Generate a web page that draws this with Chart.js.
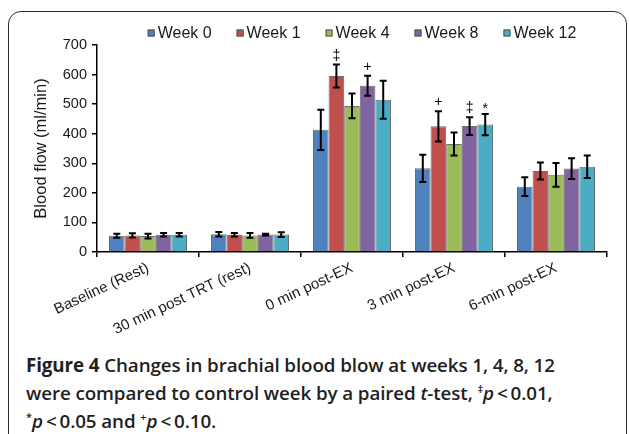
<!DOCTYPE html>
<html>
<head>
<meta charset="utf-8">
<script src="https://cdn.jsdelivr.net/npm/chart.js@4.4.1/dist/chart.umd.min.js"></script>
<style>
  html, body { margin: 0; padding: 0; background: #fff; }
  body { width: 629px; height: 434px; position: relative; overflow: hidden; }
  #frame {
    position: absolute; left: 8px; top: 11px; width: 617px; height: 480px;
    border: 1.5px solid #2b2b2b; border-radius: 13px;
  }
  #chartBox { position: absolute; left: 0; top: 0; width: 629px; height: 345px; }
  #caption {
    position: absolute; left: 26px; top: 351px; width: 600px;
    font-family: "Open Sans", sans-serif; font-size: 18.8px; line-height: 28px;
    font-weight: 600; color: #231f20; white-space: nowrap; letter-spacing: -0.1px;
  }
  #caption b { font-weight: 700; }
  #caption sup { font-size: 11px; line-height: 0; vertical-align: 7px; }
</style>
</head>
<body>
<div id="frame"></div>
<div id="chartBox"><canvas id="flowChart"></canvas></div>
<div id="caption">
  <b>Figure 4</b> Changes in brachial blood blow at weeks 1, 4, 8, 12<br>
  were compared to control week by a paired <i>t</i>-test, <sup>‡</sup><i>p</i>&thinsp;&lt;&thinsp;0.01,<br>
  <sup>*</sup><i>p</i>&thinsp;&lt;&thinsp;0.05 and <sup>+</sup><i>p</i>&thinsp;&lt;&thinsp;0.10.
</div>
<script>
const categories = ["Baseline (Rest)", "30 min post TRT (rest)", "0 min post-EX", "3 min post-EX", "6-min post-EX"];
const weekLabels = ["Week 0", "Week 1", "Week 4", "Week 8", "Week 12"];
const weekColors = ["#4f81bd", "#c0504d", "#9bbb59", "#8064a2", "#4bacc6"];

// mean blood flow (ml/min)
const week0 = [55, 60, 413, 283, 221];
const week1 = [56, 58, 595, 425, 274];
const week4 = [54, 56, 494, 365, 261];
const week8 = [58, 59, 562, 426, 282];
const week12 = [58, 59, 515, 431, 288];

// error bar half-widths
const err0 = [7, 8, 68, 46, 32];
const err1 = [7, 6, 39, 51, 29];
const err4 = [8, 8, 42, 39, 40];
const err8 = [6, 3, 34, 30, 35];
const err12 = [6, 8, 64, 36, 38];

// significance markers vs week 0
const sig0 = ["", "", "", "", ""];
const sig1 = ["", "", "\u2021", "+", ""];
const sig4 = ["", "", "", "", ""];
const sig8 = ["", "", "+", "\u2021", ""];
const sig12 = ["", "", "", "*", ""];

const yTicks = [0, 100, 200, 300, 400, 500, 600, 700];

const values = [week0, week1, week4, week8, week12];
const errors = [err0, err1, err4, err8, err12];
const marks = [sig0, sig1, sig4, sig8, sig12];

const chartFont = '"Liberation Sans", Arial, sans-serif';
const textColor = "#1a1a1a";

// error bars + significance symbols
const errorBarPlugin = {
  id: "errorBars",
  afterDatasetsDraw(chart) {
    const ctx = chart.ctx;
    const y = chart.scales.y;
    ctx.save();
    ctx.strokeStyle = "#000";
    ctx.lineWidth = 2;
    chart.data.datasets.forEach((ds, i) => {
      const meta = chart.getDatasetMeta(i);
      meta.data.forEach((bar, j) => {
        const v = ds.data[j], e = ds.errors[j];
        const top = y.getPixelForValue(v + e);
        const bot = y.getPixelForValue(v - e);
        const x = bar.x;
        ctx.beginPath();
        ctx.moveTo(x, top); ctx.lineTo(x, bot);
        ctx.moveTo(x - 3.5, top); ctx.lineTo(x + 3.5, top);
        ctx.moveTo(x - 3.5, bot); ctx.lineTo(x + 3.5, bot);
        ctx.stroke();
        const s = ds.marks[j];
        if (s) {
          ctx.fillStyle = "#000";
          ctx.font = "14px " + chartFont;
          ctx.textAlign = "center";
          ctx.textBaseline = "alphabetic";
          ctx.fillText(s, x, top - (s === "*" ? 1 : 5));
        }
      });
    });
    ctx.restore();
  }
};

// legend drawn to sit the way the original does
const legendPlugin = {
  id: "weekLegend",
  afterDraw(chart) {
    const ctx = chart.ctx;
    const area = chart.chartArea;
    ctx.save();
    ctx.font = "16px " + chartFont;
    const box = 7, gapText = 3, gapItem = 25;
    const widths = chart.data.datasets.map(ds => box + gapText + ctx.measureText(ds.label).width);
    const total = widths.reduce((a, b) => a + b, 0) + gapItem * (widths.length - 1);
    let x = (area.left + area.right) / 2 - total / 2 + 10;
    const yMid = 33;
    chart.data.datasets.forEach((ds, i) => {
      ctx.fillStyle = ds.backgroundColor;
      ctx.fillRect(x, yMid - box / 2, box, box);
      ctx.strokeStyle = "#555";
      ctx.lineWidth = 1;
      ctx.strokeRect(x + 0.5, yMid - box / 2 + 0.5, box - 1, box - 1);
      ctx.fillStyle = textColor;
      ctx.textBaseline = "middle";
      ctx.textAlign = "left";
      ctx.fillText(ds.label, x + box + gapText, yMid + 1);
      x += widths[i] + gapItem;
    });
    ctx.restore();
  }
};

const datasets = weekLabels.map((label, i) => ({
  label: label,
  data: values[i],
  errors: errors[i],
  marks: marks[i],
  backgroundColor: weekColors[i],
  borderColor: "rgba(60,60,60,0.75)",
  borderWidth: 1,
  categoryPercentage: 0.765,
  barPercentage: 1.0
}));

const ctx = document.getElementById("flowChart").getContext("2d");
new Chart(ctx, {
  type: "bar",
  data: { labels: categories, datasets: datasets },
  options: {
    responsive: true,
    maintainAspectRatio: false,
    animation: false,
    layout: { padding: { left: 28, right: 22, top: 45, bottom: 0 } },
    plugins: {
      legend: { display: false },
      tooltip: { enabled: false }
    },
    scales: {
      x: {
        offset: true,
        grid: { offset: true, drawOnChartArea: false, tickLength: 5, color: "#000", lineWidth: 1.5 },
        border: { color: "#000", width: 1.5 },
        ticks: {
          maxRotation: 25, minRotation: 25, padding: 2,
          color: textColor, font: { family: chartFont, size: 15 }
        },
        afterFit: (s) => { s.height = 93; }
      },
      y: {
        min: 0, max: 700,
        afterBuildTicks: (s) => { s.ticks = yTicks.map(v => ({ value: v })); },
        grid: { drawOnChartArea: false, tickLength: 5, color: "#000", lineWidth: 1.5 },
        border: { color: "#000", width: 1.5 },
        ticks: { padding: 5, color: textColor, font: { family: chartFont, size: 14.5 } },
        title: {
          display: true, text: "Blood flow (ml/min)", color: textColor,
          font: { family: chartFont, size: 16.5 }, padding: { top: 4, bottom: 0 }
        },
        afterFit: (s) => { s.width = 69; }
      }
    }
  },
  plugins: [errorBarPlugin, legendPlugin]
});
</script>
</body>
</html>
